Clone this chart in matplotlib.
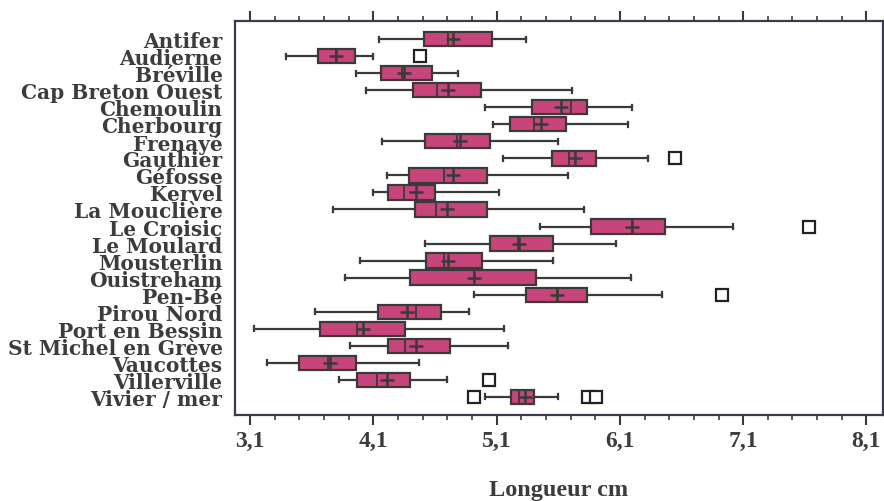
import matplotlib.pyplot as plt
import numpy as np

sites = ['Antifer', 'Audierne', 'Bréville', 'Cap Breton Ouest', 'Chemoulin', 'Cherbourg',
         'Frenayé', 'Gauthier', 'Géfosse', 'Kervel', 'La Mouclière', 'Le Croisic',
         'Le Moulard', 'Mousterlin', 'Ouistreham', 'Pen-Bé', 'Pirou Nord', 'Port en Bessin',
         'St Michel en Grève', 'Vaucottes', 'Villerville', 'Vivier / mer']

whislo = [4.15, 3.39, 3.96, 4.04, 5.01, 5.07, 4.17, 5.15, 4.21, 4.10, 3.77, 5.45,
          4.52, 3.99, 3.87, 4.92, 3.63, 3.13, 3.91, 3.24, 3.82, 5.01]
q1 = [4.51, 3.65, 4.16, 4.42, 5.39, 5.21, 4.52, 5.55, 4.39, 4.22, 4.44, 5.87,
      5.05, 4.53, 4.40, 5.34, 4.14, 3.67, 4.22, 3.50, 3.97, 5.22]
med = [4.71, 3.80, 4.33, 4.62, 5.70, 5.40, 4.78, 5.69, 4.67, 4.35, 4.61, 6.20,
       5.27, 4.67, 4.92, 5.59, 4.45, 3.97, 4.36, 3.73, 4.13, 5.28]
mean = [4.75, 3.80, 4.35, 4.71, 5.62, 5.46, 4.80, 5.74, 4.75, 4.45, 4.70, 6.20,
        5.28, 4.71, 4.92, 5.59, 4.37, 4.02, 4.45, 3.75, 4.21, 5.33]
q3 = [5.06, 3.95, 4.58, 4.97, 5.83, 5.66, 5.05, 5.91, 5.02, 4.60, 5.02, 6.47,
      5.56, 4.98, 5.42, 5.83, 4.65, 4.36, 4.72, 3.96, 4.40, 5.40]
whishi = [5.34, 4.10, 4.79, 5.71, 6.20, 6.17, 5.60, 6.33, 5.68, 5.12, 5.81, 7.02,
          6.07, 5.56, 6.19, 6.44, 4.88, 5.16, 5.19, 4.47, 4.70, 5.60]
outliers = [[], [4.48], [], [], [], [], [], [6.55], [], [], [], [7.63],
            [], [], [], [6.93], [], [], [], [], [5.04], [4.92, 5.84, 5.91]]

plt.rcParams['font.family'] = ['Liberation Serif', 'DejaVu Serif']
txt = '#3c3c3c'
edge = '#3a3a3a'

stats = []
for i in range(len(sites)):
    stats.append({'label': sites[i], 'whislo': whislo[i], 'q1': q1[i], 'med': med[i],
                  'mean': mean[i], 'q3': q3[i], 'whishi': whishi[i], 'fliers': outliers[i]})

fig = plt.figure(figsize=(8.84, 5.02), dpi=100)
ax = fig.add_axes([235 / 884, 86 / 502, 648 / 884, 394 / 502])

pos = np.arange(len(sites))
ax.bxp(stats, positions=pos, vert=False, widths=0.84, patch_artist=True,
       showmeans=True, showfliers=True,
       boxprops=dict(facecolor='#c8457c', edgecolor=edge, linewidth=1.6),
       medianprops=dict(color=edge, linewidth=1.3),
       whiskerprops=dict(color=edge, linewidth=1.6),
       capprops=dict(color=edge, linewidth=1.6),
       capwidths=0.3,
       meanprops=dict(marker='+', markeredgecolor=edge, markersize=10, markeredgewidth=1.8),
       flierprops=dict(marker='s', markerfacecolor='white', markeredgecolor='#222222',
                       markersize=9, markeredgewidth=1.6))

ax.set_ylim(len(sites) - 1 + 1.06, -1.06)
ax.set_xlim(2.979, 8.234)

ticks = np.arange(3.1, 8.2, 1.0)
ax.set_xticks(ticks, [f'{t:.1f}'.replace('.', ',') for t in ticks],
              fontsize=17, fontweight='bold', color=txt)
ax.set_xticks(np.arange(3.1, 8.25, 0.2), minor=True)
ax.set_yticks(pos, sites, fontsize=14.5, fontweight='bold', color=txt,
              family=['DejaVu Serif'])
ax.tick_params(axis='y', length=0, pad=9)
ax.tick_params(axis='x', which='major', direction='out', length=7, width=1.5,
               top=True, color=edge, pad=4)
ax.tick_params(axis='x', which='minor', direction='out', length=3.5, width=1.2,
               top=True, color=edge)
for s in ax.spines.values():
    s.set_color('#3a3a55')
    s.set_linewidth(1.6)

ax.set_xlabel('Longueur cm', fontsize=17.5, fontweight='bold', color=txt, labelpad=20)

plt.savefig('out.png', dpi=100)
